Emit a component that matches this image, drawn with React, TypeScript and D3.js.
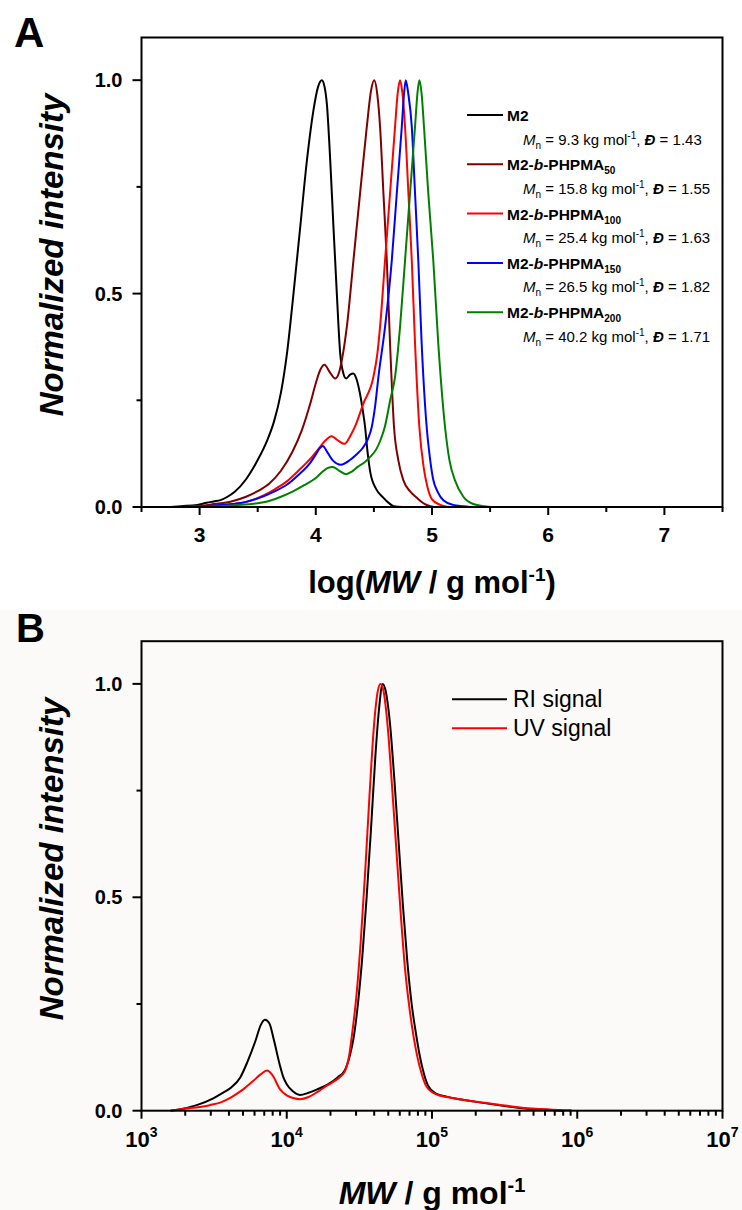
import React from 'react';
import * as d3 from 'd3';

const W = 742;
const H = 1210;
const FONT = '"Liberation Sans", Arial, Helvetica, sans-serif';

// ---------- Panel A data: [log(MW), normalized intensity] ----------
const m2: [number, number][] = [
  [2.75, 0], [2.84, 0.002], [2.98, 0.005], [3.06, 0.01], [3.12, 0.013], [3.18, 0.016], [3.24, 0.024],
  [3.3, 0.035], [3.4, 0.065], [3.5, 0.11], [3.58, 0.155], [3.64, 0.2], [3.7, 0.268], [3.752, 0.36],
  [3.808, 0.5], [3.866, 0.656], [3.924, 0.813], [3.98, 0.93], [4.02, 0.985], [4.052, 1],
  [4.075, 0.985], [4.095, 0.945], [4.124, 0.813], [4.152, 0.656], [4.181, 0.5], [4.21, 0.36], [4.235, 0.315],
  [4.261, 0.301], [4.295, 0.31], [4.324, 0.313], [4.35, 0.3], [4.38, 0.266], [4.405, 0.225], [4.424, 0.188],
  [4.445, 0.13], [4.47, 0.08], [4.52, 0.042], [4.58, 0.022], [4.63, 0.009], [4.67, 0.002], [4.75, 0],
];
const phpma50: [number, number][] = [
  [2.8, 0], [2.98, 0.002], [3.1, 0.006], [3.265, 0.0125], [3.4, 0.024], [3.5, 0.037], [3.6, 0.055],
  [3.7, 0.085], [3.8, 0.13], [3.88, 0.18], [3.95, 0.24], [4.0, 0.29], [4.04, 0.322], [4.075, 0.333],
  [4.12, 0.316], [4.167, 0.301], [4.2, 0.315], [4.224, 0.344], [4.267, 0.422], [4.324, 0.578],
  [4.381, 0.735], [4.439, 0.891], [4.475, 0.975], [4.502, 1], [4.53, 0.965], [4.553, 0.891], [4.582, 0.735],
  [4.611, 0.578], [4.639, 0.383], [4.673, 0.188], [4.71, 0.11], [4.753, 0.063], [4.81, 0.037], [4.868, 0.022],
  [4.92, 0.01], [4.96, 0.004], [5.02, 0],
];
const phpma100: [number, number][] = [
  [2.85, 0], [2.98, 0.001], [3.2, 0.005], [3.4, 0.012], [3.55, 0.027], [3.65, 0.042], [3.75, 0.06],
  [3.85, 0.085], [3.95, 0.112], [4.02, 0.135], [4.08, 0.155], [4.135, 0.166], [4.18, 0.158], [4.247, 0.148],
  [4.3, 0.168], [4.34, 0.19], [4.41, 0.243], [4.496, 0.305], [4.53, 0.36], [4.553, 0.422], [4.596, 0.578],
  [4.639, 0.735], [4.682, 0.891], [4.705, 0.97], [4.725, 1], [4.745, 0.97], [4.768, 0.891], [4.797, 0.735],
  [4.826, 0.578], [4.854, 0.383], [4.891, 0.188], [4.93, 0.09], [4.96, 0.048], [5.0, 0.018], [5.07, 0.005],
  [5.15, 0],
];
const phpma150: [number, number][] = [
  [2.9, 0], [2.98, 0.001], [3.2, 0.005], [3.4, 0.012], [3.55, 0.025], [3.65, 0.037], [3.75, 0.052],
  [3.85, 0.075], [3.95, 0.103], [4.0, 0.123], [4.035, 0.138], [4.06, 0.143], [4.1, 0.128], [4.15, 0.108],
  [4.215, 0.099], [4.294, 0.11], [4.35, 0.123], [4.4, 0.137], [4.45, 0.16], [4.482, 0.188], [4.51, 0.235],
  [4.539, 0.305], [4.596, 0.422], [4.654, 0.578], [4.697, 0.735], [4.74, 0.891], [4.76, 0.97], [4.774, 1],
  [4.795, 0.97], [4.826, 0.891], [4.854, 0.735], [4.882, 0.578], [4.911, 0.383], [4.954, 0.188], [4.98, 0.12],
  [5.01, 0.065], [5.05, 0.035], [5.1, 0.015], [5.18, 0.005], [5.27, 0.002], [5.35, 0], [6.1, 0],
];
const phpma200: [number, number][] = [
  [3.0, 0], [3.12, 0.001], [3.3, 0.004], [3.55, 0.011], [3.7, 0.024], [3.8, 0.036], [3.9, 0.051],
  [4.0, 0.068], [4.06, 0.083], [4.1, 0.091], [4.146, 0.094], [4.2, 0.085], [4.26, 0.077], [4.31, 0.083],
  [4.36, 0.094], [4.42, 0.105], [4.47, 0.118], [4.52, 0.135], [4.557, 0.157], [4.596, 0.19], [4.64, 0.25],
  [4.682, 0.305], [4.725, 0.422], [4.768, 0.578], [4.811, 0.735], [4.854, 0.891], [4.875, 0.97], [4.891, 1],
  [4.91, 0.97], [4.931, 0.891], [4.968, 0.735], [5.011, 0.578], [5.054, 0.383], [5.112, 0.188], [5.15, 0.11],
  [5.197, 0.063], [5.27, 0.024], [5.355, 0.007], [5.45, 0.002], [5.555, 0], [5.72, 0],
];
const seriesA = [m2, phpma50, phpma100, phpma150, phpma200];
const colorsA = ['#000000', '#800000', '#FF0000', '#0000FF', '#008000'];
const legendBase = ['M2', 'M2-', 'M2-', 'M2-', 'M2-'];
const legendSub = ['', '50', '100', '150', '200'];
const legendMn = ['9.3', '15.8', '25.4', '26.5', '40.2'];
const legendD = ['1.43', '1.55', '1.63', '1.82', '1.71'];

const yTicksMajor = [0, 0.5, 1.0];
const yTicksMinor = [0.25, 0.75];

// ---------- Panel B data: [log10(MW), normalized intensity] ----------
const riSignal: [number, number][] = [
  [3.2, 0], [3.26, 0.003], [3.38, 0.013], [3.494, 0.029], [3.56, 0.042], [3.62, 0.055], [3.68, 0.078],
  [3.73, 0.115], [3.786, 0.165], [3.82, 0.2], [3.85, 0.213], [3.88, 0.205], [3.912, 0.165], [3.95, 0.11],
  [3.977, 0.078], [4.0, 0.062], [4.04, 0.046], [4.09, 0.037], [4.15, 0.042], [4.21, 0.05], [4.294, 0.064],
  [4.35, 0.078], [4.4, 0.095], [4.435, 0.13], [4.46, 0.17], [4.49, 0.25], [4.52, 0.36], [4.55, 0.5],
  [4.58, 0.66], [4.61, 0.83], [4.635, 0.94], [4.66, 1.0], [4.68, 0.985], [4.71, 0.91], [4.74, 0.78],
  [4.77, 0.63], [4.8, 0.48], [4.83, 0.35], [4.86, 0.25], [4.89, 0.18], [4.915, 0.13], [4.944, 0.087],
  [4.971, 0.06], [5.028, 0.04], [5.1, 0.033], [5.169, 0.028], [5.28, 0.022], [5.395, 0.016], [5.5, 0.011],
  [5.62, 0.006], [5.8, 0.002], [5.9, 0],
];
const uvSignal: [number, number][] = [
  [3.2, 0], [3.26, 0.003], [3.47, 0.013], [3.55, 0.02], [3.62, 0.032], [3.7, 0.05], [3.77, 0.07],
  [3.82, 0.085], [3.864, 0.094], [3.9, 0.084], [3.954, 0.05], [4.0, 0.036], [4.05, 0.029], [4.092, 0.027],
  [4.15, 0.032], [4.207, 0.043], [4.26, 0.055], [4.322, 0.068], [4.379, 0.083], [4.4, 0.092], [4.43, 0.13],
  [4.45, 0.18], [4.48, 0.27], [4.51, 0.4], [4.54, 0.56], [4.57, 0.74], [4.6, 0.9], [4.625, 0.98],
  [4.645, 1.0], [4.665, 0.985], [4.695, 0.9], [4.725, 0.76], [4.755, 0.61], [4.785, 0.46], [4.815, 0.33],
  [4.845, 0.24], [4.875, 0.17], [4.9, 0.125], [4.93, 0.085], [4.96, 0.058], [5.03, 0.038], [5.1, 0.032],
  [5.17, 0.028], [5.28, 0.022], [5.4, 0.017], [5.5, 0.012], [5.62, 0.007], [5.8, 0.003], [5.96, 0.001],
];
const seriesB = [riSignal, uvSignal];
const colorsB = ['#000000', '#FF0000'];
const legendB = ['RI signal', 'UV signal'];
const decadesB = [3, 4, 5, 6, 7];

// ---------- geometry ----------
const L = 141.5;
const R = 722.5;
const A_BOTTOM = 507;
const A_TOP = 37.5;
const B_BOTTOM = 1110.7;
const B_TOP = 641.2;

const xA = d3.scaleLinear().domain([2.5, 7.5]).range([L, R]);
const yA = d3.scaleLinear().domain([0, 1.1]).range([A_BOTTOM, A_TOP]);
const xB = d3.scaleLog().domain([1e3, 1e7]).range([L, R]);
const yB = d3.scaleLinear().domain([0, 1.1]).range([B_BOTTOM, B_TOP]);

const lineA = d3
  .line<[number, number]>()
  .x((d) => xA(d[0]))
  .y((d) => yA(d[1]))
  .curve(d3.curveMonotoneX);
const lineB = d3
  .line<[number, number]>()
  .x((d) => xB(Math.pow(10, d[0])))
  .y((d) => yB(d[1]))
  .curve(d3.curveMonotoneX);

function YAxis({ y }: { y: d3.ScaleLinear<number, number> }) {
  return (
    <g>
      {yTicksMajor.map((t) => (
        <g key={'M' + t}>
          <line x1={L - 9} x2={L} y1={y(t)} y2={y(t)} stroke="#000" strokeWidth={2} />
          <text x={L - 19} y={y(t) + 7} textAnchor="end" fontFamily={FONT} fontWeight="bold" fontSize={20}>
            {t.toFixed(1)}
          </text>
        </g>
      ))}
      {yTicksMinor.map((t) => (
        <line key={'m' + t} x1={L - 5} x2={L} y1={y(t)} y2={y(t)} stroke="#000" strokeWidth={2} />
      ))}
    </g>
  );
}

function YTitle({ cy }: { cy: number }) {
  return (
    <text
      transform={`translate(63,${cy}) rotate(-90)`}
      textAnchor="middle"
      fontFamily={FONT}
      fontWeight="bold"
      fontStyle="italic"
      fontSize={33}
    >
      Normalized intensity
    </text>
  );
}

export default function App() {
  const ticksA = xA.ticks(10);
  const minorB: number[] = [];
  decadesB.slice(0, -1).forEach((d) => {
    for (let m = 2; m <= 9; m++) minorB.push(m * Math.pow(10, d));
  });

  return (
    <svg
      width={W}
      height={H}
      viewBox={`0 0 ${W} ${H}`}
      style={{ position: 'absolute', left: 0, top: 0, background: '#fff' }}
    >
      <rect x={0} y={0} width={W} height={H} fill="#ffffff" />
      <rect x={0} y={610} width={W} height={H - 610} fill="#fbfaf8" />

      {/* ================= Panel A ================= */}
      <text x={14} y={47} fontFamily={FONT} fontWeight="bold" fontSize={42}>
        A
      </text>
      <rect x={L} y={A_TOP} width={R - L} height={A_BOTTOM - A_TOP} fill="#fff" stroke="none" />
      {seriesA.map((s, i) => (
        <path key={i} d={lineA(s) || ''} fill="none" stroke={colorsA[i]} strokeWidth={2} strokeLinejoin="round" />
      ))}
      <rect x={L} y={A_TOP} width={R - L} height={A_BOTTOM - A_TOP} fill="none" stroke="#000" strokeWidth={2} />
      {ticksA.map((t) => {
        const major = Math.abs(t - Math.round(t)) < 1e-6;
        return (
          <g key={t}>
            <line x1={xA(t)} x2={xA(t)} y1={A_BOTTOM} y2={A_BOTTOM + (major ? 8 : 5)} stroke="#000" strokeWidth={2} />
            {major && (
              <text x={xA(t)} y={541.5} textAnchor="middle" fontFamily={FONT} fontWeight="bold" fontSize={21}>
                {t}
              </text>
            )}
          </g>
        );
      })}
      <YAxis y={yA} />
      <YTitle cy={255} />
      <text x={(L + R) / 2} y={593} textAnchor="middle" fontFamily={FONT} fontWeight="bold" fontSize={31}>
        log(<tspan fontStyle="italic">MW</tspan> / g mol
        <tspan fontSize={19} dy={-12}>
          -1
        </tspan>
        <tspan dy={12}>)</tspan>
      </text>

      {/* legend A */}
      {seriesA.map((_, i) => {
        const ly = 115 + i * 49.3;
        return (
          <g key={'lg' + i}>
            <line x1={467} x2={503} y1={ly} y2={ly} stroke={colorsA[i]} strokeWidth={2} />
            <text x={507} y={ly + 6} fontFamily={FONT} fontWeight="bold" fontSize={15.5}>
              {legendBase[i]}
              {legendSub[i] && (
                <>
                  <tspan fontStyle="italic">b</tspan>
                  <tspan>-PHPMA</tspan>
                  <tspan fontSize={10} dy={4}>
                    {legendSub[i]}
                  </tspan>
                </>
              )}
            </text>
            <text x={523} y={ly + 29.5} fontFamily={FONT} fontSize={15}>
              <tspan fontStyle="italic">M</tspan>
              <tspan fontSize={10} dy={4}>
                n
              </tspan>
              <tspan dy={-4}>{` = ${legendMn[i]} kg mol`}</tspan>
              <tspan fontSize={10} dy={-6}>
                -1
              </tspan>
              <tspan dy={6}>, </tspan>
              <tspan fontStyle="italic" fontWeight="bold">
                Đ
              </tspan>
              <tspan>{` = ${legendD[i]}`}</tspan>
            </text>
          </g>
        );
      })}

      {/* ================= Panel B ================= */}
      <text x={16} y={642} fontFamily={FONT} fontWeight="bold" fontSize={40}>
        B
      </text>
      {seriesB.map((s, i) => (
        <path key={i} d={lineB(s) || ''} fill="none" stroke={colorsB[i]} strokeWidth={2} strokeLinejoin="round" />
      ))}
      <rect x={L} y={B_TOP} width={R - L} height={B_BOTTOM - B_TOP} fill="none" stroke="#000" strokeWidth={2} />
      {decadesB.map((d) => {
        const v = Math.pow(10, d);
        return (
          <g key={'d' + d}>
            <line x1={xB(v)} x2={xB(v)} y1={B_BOTTOM} y2={B_BOTTOM + 8} stroke="#000" strokeWidth={2} />
            <text x={xB(v)} y={1146.5} textAnchor="middle" fontFamily={FONT} fontWeight="bold" fontSize={22}>
              10
              <tspan fontSize={14} dy={-10}>
                {d}
              </tspan>
            </text>
          </g>
        );
      })}
      {minorB.map((v) => (
        <line key={'mb' + v} x1={xB(v)} x2={xB(v)} y1={B_BOTTOM} y2={B_BOTTOM + 5} stroke="#000" strokeWidth={2} />
      ))}
      <YAxis y={yB} />
      <YTitle cy={859} />
      <text x={(L + R) / 2} y={1204} textAnchor="middle" fontFamily={FONT} fontWeight="bold" fontSize={32}>
        <tspan fontStyle="italic">MW</tspan> / g mol
        <tspan fontSize={20} dy={-12}>
          -1
        </tspan>
      </text>

      {/* legend B */}
      {legendB.map((lab, i) => {
        const ly = 699.3 + i * 29;
        return (
          <g key={'lb' + i}>
            <line x1={452} x2={507} y1={ly} y2={ly} stroke={colorsB[i]} strokeWidth={2} />
            <text x={513} y={ly + 8} fontFamily={FONT} fontSize={23}>
              {lab}
            </text>
          </g>
        );
      })}
    </svg>
  );
}
